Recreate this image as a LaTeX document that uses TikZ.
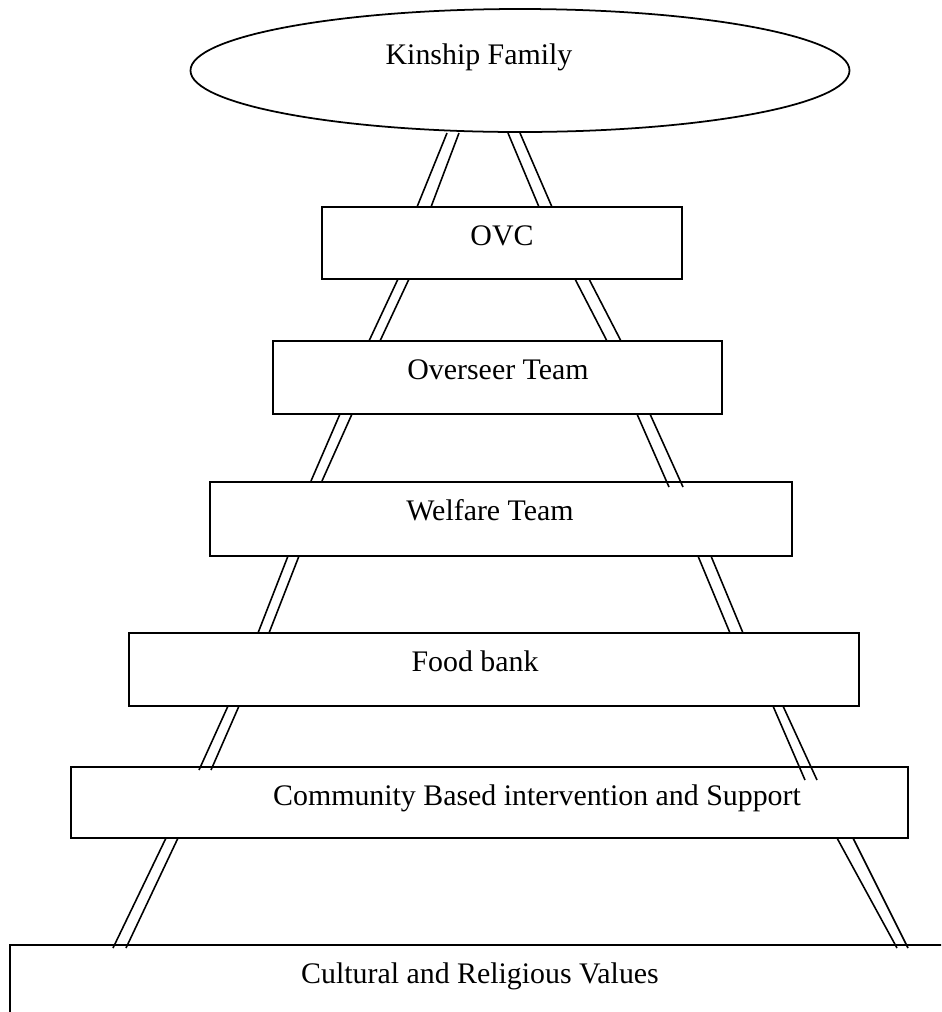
\documentclass[tikz,border=0pt]{standalone}
\usepackage{fontspec}
\setmainfont{Liberation Serif}
\usetikzlibrary{shapes.geometric}
\begin{document}
\begin{tikzpicture}[x=0.02cm, y=-0.02cm,
    tier/.style={draw, line width=1pt, fill=white, inner sep=0pt},
    tiertext/.style={anchor=base, inner sep=0pt, font=\fontsize{17}{20}\selectfont},
    rail/.style={line width=0.9pt}]
    \useasboundingbox (0,0) rectangle (941,1012);
    \clip (0,0) rectangle (941,1012);

    % Top of the ladder
    \node[tier, ellipse, minimum width=659*0.02cm, minimum height=123*0.02cm] (kinship) at (520,70.5) {};

    % Rungs
    \foreach \name/\cx/\cy/\w/\h in {ovc/502/243/360/72, overseer/497.5/377.5/449/73,
        welfare/501/519/582/74, foodbank/494/669.5/730/73,
        community/489.5/802.5/837/71, values/485/987.5/950/85}
        \node[tier, rectangle, minimum width=\w*0.02cm, minimum height=\h*0.02cm] (\name) at (\cx,\cy) {};

    % Labels
    \node[tiertext] (kinship-text) at (479,64) {Kinship Family};
    \node[tiertext] (ovc-text) at (502,245) {OVC};
    \node[tiertext] (overseer-text) at (498,379) {Overseer Team};
    \node[tiertext] (welfare-text) at (490,520) {Welfare Team};
    \node[tiertext] (foodbank-text) at (475,671) {Food bank};
    \node[tiertext] (community-text) at (537,805) {Community Based intervention and Support};
    \node[tiertext] (values-text) at (480,983) {Cultural and Religious Values};

    % Left rails
    \foreach \xa/\ya/\xb/\yb in {447/133/417/207, 459/133/431/207,
        398/279/369/341, 409/279/380/341, 340/414/311/481, 352/414/322/481,
        288/556/258/633, 299/556/269/633, 228/706/199/770, 239/706/211/770,
        166/838/113/948, 178/838/126/948}
        \draw[rail] (\xa,\ya) -- (\xb,\yb);

    % Right rails
    \foreach \xa/\ya/\xb/\yb in {508/133/539/207, 520/133/552/207,
        575/279/607/341, 589/279/621/341, 637/414/669/487, 650/414/683/487,
        698/556/730/633, 711/556/743/633, 773/706/805/780, 783/706/817/780,
        837/838/897/948, 853/838/908/948}
        \draw[rail] (\xa,\ya) -- (\xb,\yb);
\end{tikzpicture}
\end{document}
